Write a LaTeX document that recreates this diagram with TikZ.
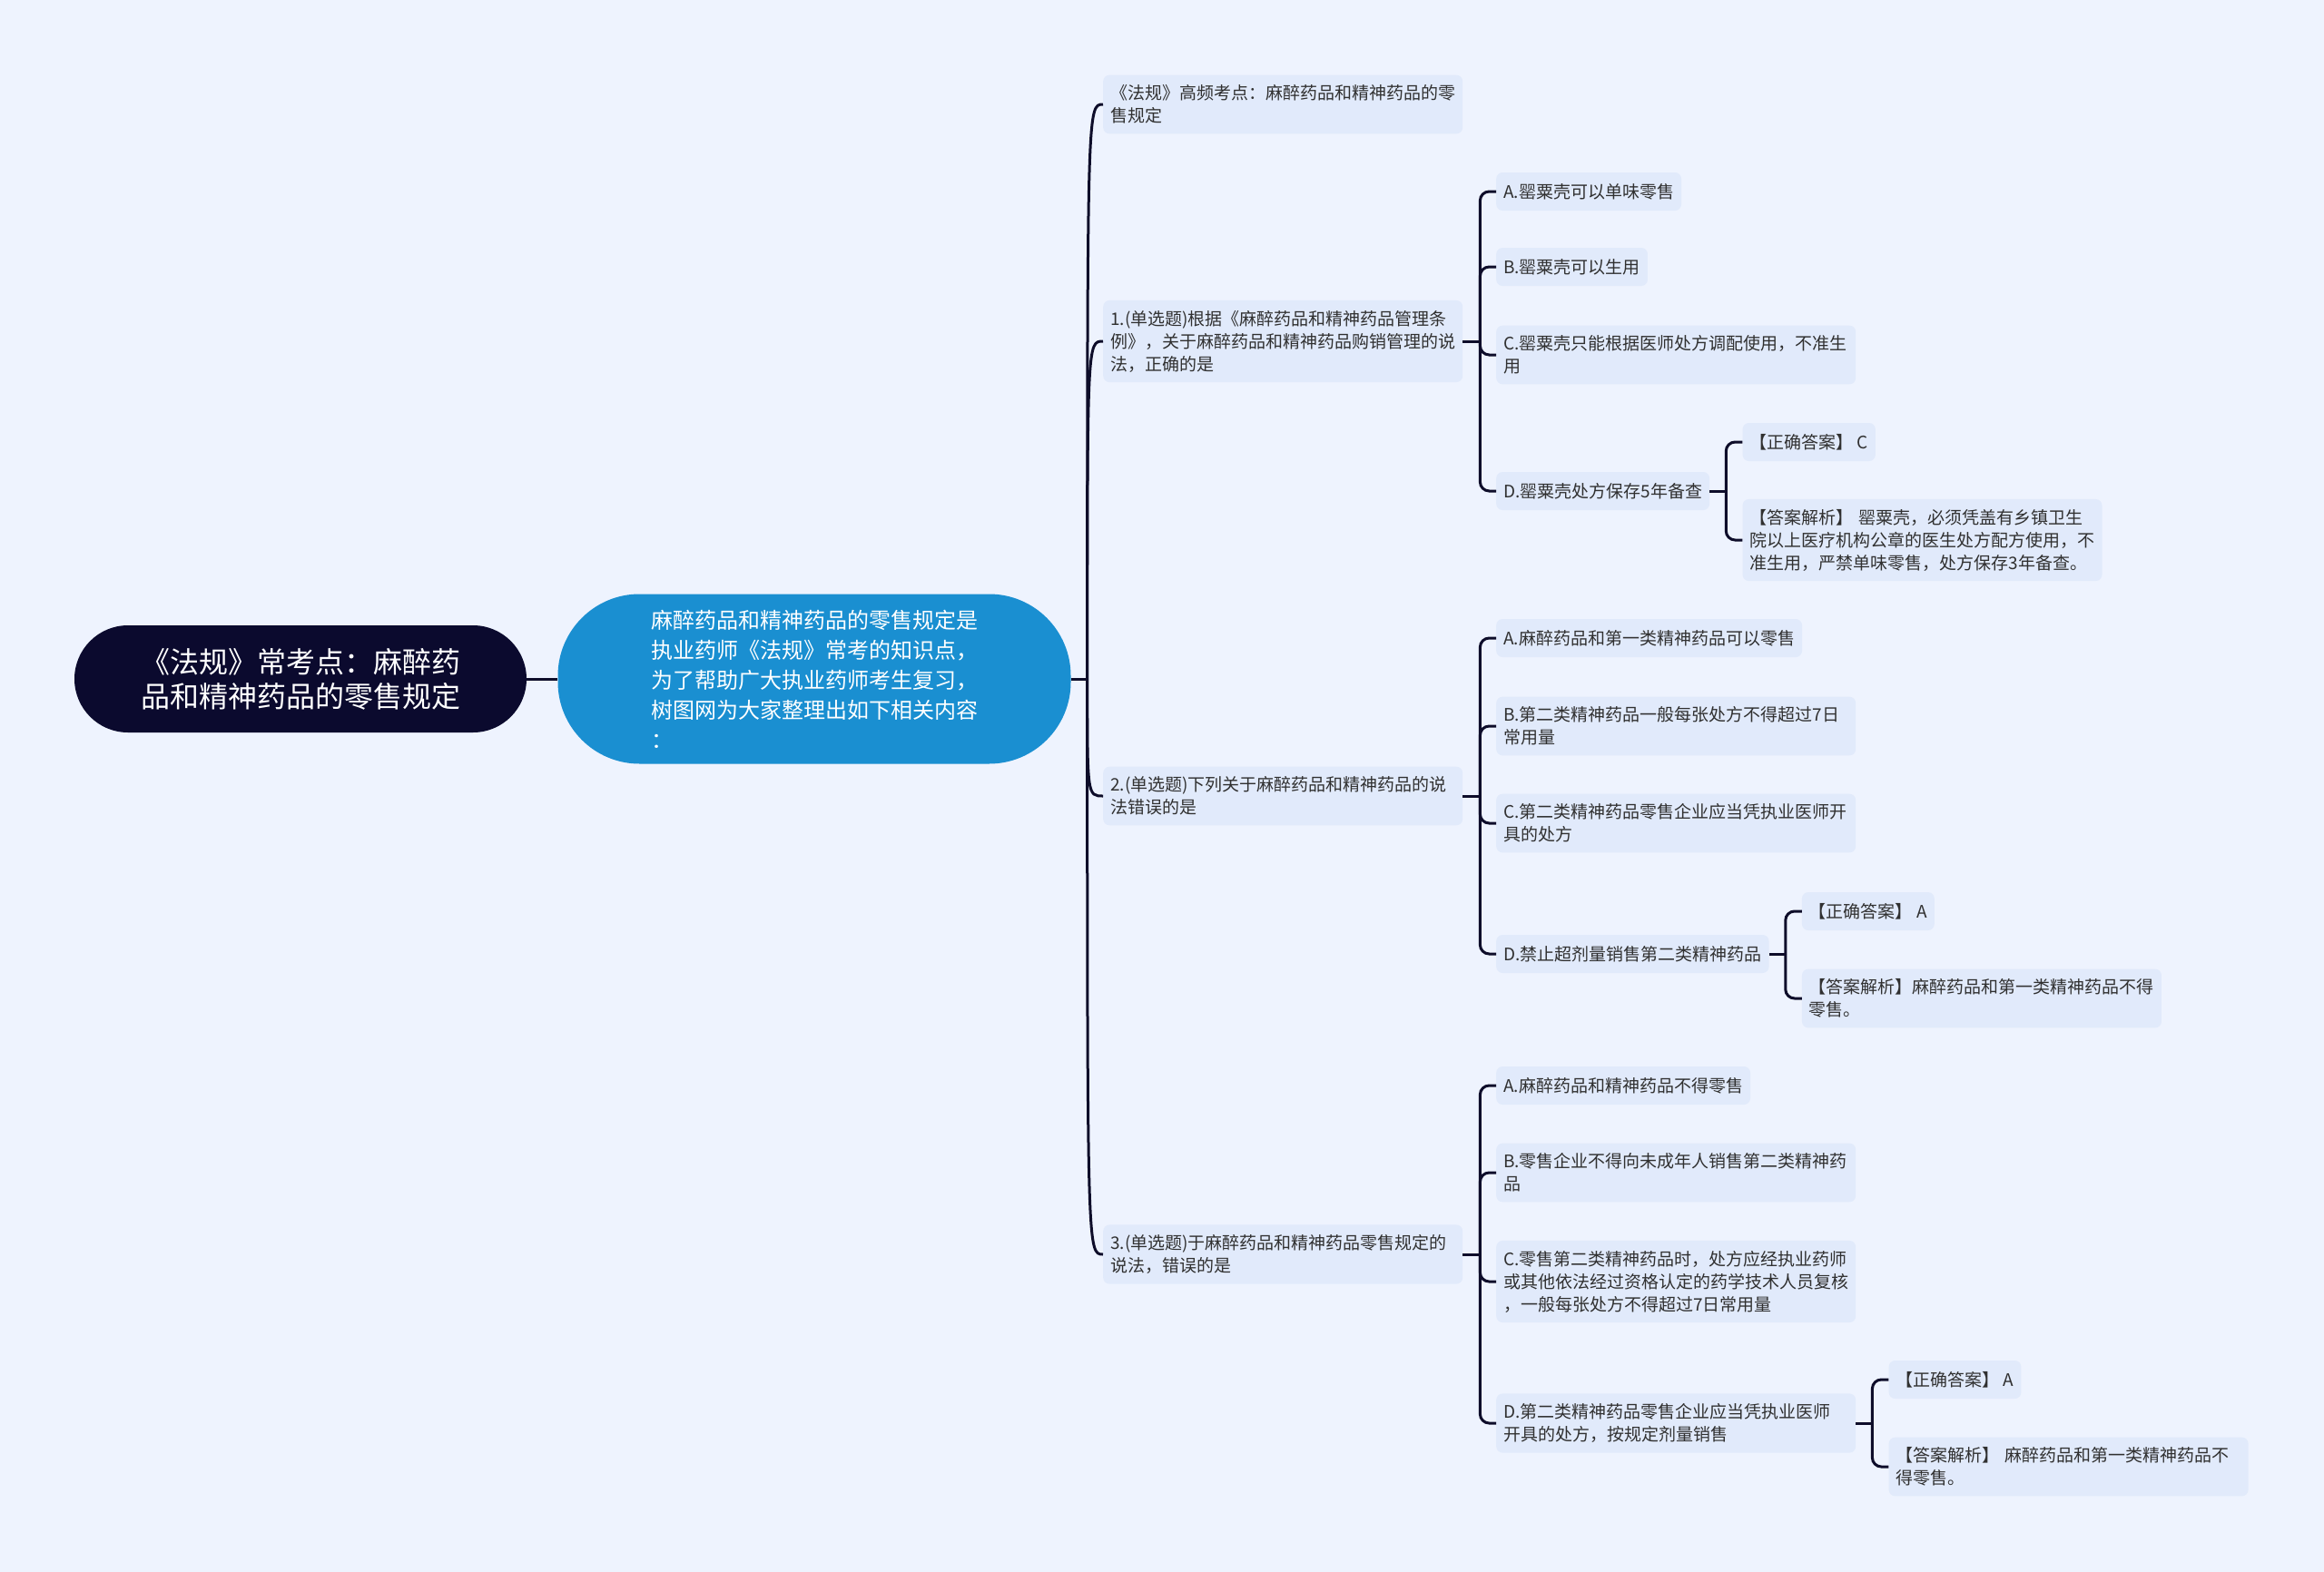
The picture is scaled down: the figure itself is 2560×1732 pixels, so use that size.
\documentclass[tikz,border=0pt]{standalone}
\usepackage{fontspec}
\setmainfont{Noto Sans CJK SC}
\usetikzlibrary{positioning}
\usepackage{xcolor}
\definecolor{MapBack}{HTML}{EEF3FE}
\definecolor{MapNavy}{HTML}{0B0A2E}
\definecolor{MapBlue}{HTML}{1A8FD1}
\definecolor{MapBox}{HTML}{E1EAFB}
\definecolor{MapText}{HTML}{303030}
\definecolor{MapLine}{HTML}{0E0D2A}
\tikzset{
    % Topic styles
    roottopic/.style={
        rectangle,
        rounded corners=59pt,
        fill=MapNavy,
        text=white,
        minimum width=498pt,
        minimum height=118pt,
        align=center,
        font=\fontsize{32}{38}\selectfont
    },
    introtopic/.style={
        rectangle,
        rounded corners=90pt,
        fill=MapBlue,
        text=white,
        minimum width=565pt,
        minimum height=187pt,
        align=left,
        font=\fontsize{24}{33}\selectfont
    },
    topicbox/.style={
        rectangle,
        rounded corners=7pt,
        fill=MapBox,
        text=MapText,
        inner xsep=8pt,
        inner ysep=11pt,
        minimum height=42pt,
        align=left,
        font=\fontsize{19}{25}\selectfont
    },
    widebox/.style={
        topicbox,
        text width=380pt
    },
    % Connector styles
    link/.style={
        draw=MapLine,
        line width=3pt
    },
    branch/.style={
        link,
        rounded corners=10pt
    }
}

\begin{document}
\begin{tikzpicture}[x=1pt, y=-1pt]
    \useasboundingbox[fill=MapBack] (0,0) rectangle (2560,1732);

    \node[roottopic] (root) at (331,748) {《法规》常考点：麻醉药\\品和精神药品的零售规定};
    \node[introtopic] (intro) at (897,748) {麻醉药品和精神药品的零售规定是\\执业药师《法规》常考的知识点，\\为了帮助广大执业药师考生复习，\\树图网为大家整理出如下相关内容\\：};

    \node[widebox, anchor=west] (note) at (1215,115) {《法规》高频考点：麻醉药品和精神药品的零\\售规定};
    \node[widebox, anchor=west] (qone) at (1215,376) {1.(单选题)根据《麻醉药品和精神药品管理条\\例》，关于麻醉药品和精神药品购销管理的说\\法，正确的是};
    \node[widebox, anchor=west] (qtwo) at (1215,877) {2.(单选题)下列关于麻醉药品和精神药品的说\\法错误的是};
    \node[widebox, anchor=west] (qthree) at (1215,1382) {3.(单选题)于麻醉药品和精神药品零售规定的\\说法，错误的是};

    % question 1
    \node[topicbox, anchor=west] (qonea) at (1648,211) {A.罂粟壳可以单味零售};
    \node[topicbox, anchor=west] (qoneb) at (1648,294) {B.罂粟壳可以生用};
    \node[widebox, anchor=west] (qonec) at (1648,391) {C.罂粟壳只能根据医师处方调配使用，不准生\\用};
    \node[topicbox, anchor=west] (qoned) at (1648,541) {D.罂粟壳处方保存5年备查};
    \node[topicbox, anchor=west, xshift=36pt] (qoneans) at (qoned.east |- 0,487) {【正确答案】 C};
    \node[widebox, anchor=west, xshift=36pt] (qonewhy) at (qoned.east |- 0,595) {【答案解析】 罂粟壳，必须凭盖有乡镇卫生\\院以上医疗机构公章的医生处方配方使用，不\\准生用，严禁单味零售，处方保存3年备查。};

    % question 2
    \node[topicbox, anchor=west] (qtwoa) at (1648,703) {A.麻醉药品和第一类精神药品可以零售};
    \node[widebox, anchor=west] (qtwob) at (1648,800) {B.第二类精神药品一般每张处方不得超过7日\\常用量};
    \node[widebox, anchor=west] (qtwoc) at (1648,907) {C.第二类精神药品零售企业应当凭执业医师开\\具的处方};
    \node[topicbox, anchor=west] (qtwod) at (1648,1051) {D.禁止超剂量销售第二类精神药品};
    \node[topicbox, anchor=west, xshift=36pt] (qtwoans) at (qtwod.east |- 0,1004) {【正确答案】 A};
    \node[widebox, anchor=west, xshift=36pt] (qtwowhy) at (qtwod.east |- 0,1100) {【答案解析】麻醉药品和第一类精神药品不得\\零售。};

    % question 3
    \node[topicbox, anchor=west] (qthreea) at (1648,1196) {A.麻醉药品和精神药品不得零售};
    \node[widebox, anchor=west] (qthreeb) at (1648,1292) {B.零售企业不得向未成年人销售第二类精神药\\品};
    \node[widebox, anchor=west] (qthreec) at (1648,1412) {C.零售第二类精神药品时，处方应经执业药师\\或其他依法经过资格认定的药学技术人员复核\\，一般每张处方不得超过7日常用量};
    \node[widebox, anchor=west] (qthreed) at (1648,1568) {D.第二类精神药品零售企业应当凭执业医师\\开具的处方，按规定剂量销售};
    \node[topicbox, anchor=west, xshift=36pt] (qthreeans) at (qthreed.east |- 0,1520) {【正确答案】 A};
    \node[widebox, anchor=west, xshift=36pt] (qthreewhy) at (qthreed.east |- 0,1616) {【答案解析】 麻醉药品和第一类精神药品不\\得零售。};

    \draw[link] (root.east) -- (intro.west);
    \draw[link] (intro.east) -- ++(18,0) coordinate (hub);
    \draw[link] (hub) .. controls (hub |- note.west) .. (note.west);
    \draw[link] (hub) .. controls (hub |- qone.west) .. (qone.west);
    \draw[link] (hub) .. controls (hub |- qtwo.west) .. (qtwo.west);
    \draw[link] (hub) .. controls (hub |- qthree.west) .. (qthree.west);

    \draw[link] (qone.east) -- ++(19,0) coordinate (qonehub);
    \draw[branch] (qonehub) |- (qonea.west);
    \draw[branch] (qonehub) |- (qoneb.west);
    \draw[branch] (qonehub) |- (qonec.west);
    \draw[branch] (qonehub) |- (qoned.west);
    \draw[link] (qoned.east) -- ++(18,0) coordinate (qonedhub);
    \draw[branch] (qonedhub) |- (qoneans.west);
    \draw[branch] (qonedhub) |- (qonewhy.west);

    \draw[link] (qtwo.east) -- ++(19,0) coordinate (qtwohub);
    \draw[branch] (qtwohub) |- (qtwoa.west);
    \draw[branch] (qtwohub) |- (qtwob.west);
    \draw[branch] (qtwohub) |- (qtwoc.west);
    \draw[branch] (qtwohub) |- (qtwod.west);
    \draw[link] (qtwod.east) -- ++(18,0) coordinate (qtwodhub);
    \draw[branch] (qtwodhub) |- (qtwoans.west);
    \draw[branch] (qtwodhub) |- (qtwowhy.west);

    \draw[link] (qthree.east) -- ++(19,0) coordinate (qthreehub);
    \draw[branch] (qthreehub) |- (qthreea.west);
    \draw[branch] (qthreehub) |- (qthreeb.west);
    \draw[branch] (qthreehub) |- (qthreec.west);
    \draw[branch] (qthreehub) |- (qthreed.west);
    \draw[link] (qthreed.east) -- ++(18,0) coordinate (qthreedhub);
    \draw[branch] (qthreedhub) |- (qthreeans.west);
    \draw[branch] (qthreedhub) |- (qthreewhy.west);
\end{tikzpicture}
\end{document}
